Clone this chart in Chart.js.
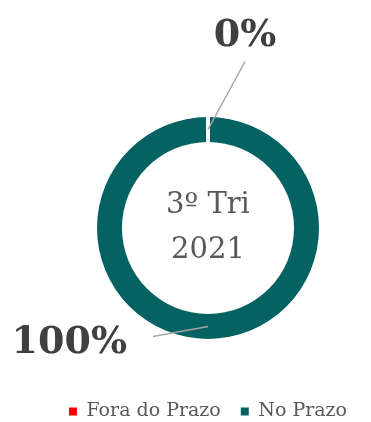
<!DOCTYPE html>
<html>
<head>
<meta charset="utf-8">
<script src="https://cdn.jsdelivr.net/npm/chart.js@4"></script>
<style>
  html, body { margin: 0; padding: 0; background: #ffffff; }
  #wrap { width: 371px; height: 422px; }
</style>
</head>
<body>
<div id="wrap"><canvas id="chart"></canvas></div>
<script>
// Chart data
const categories = ["Fora do Prazo", "No Prazo"];
const values = [0, 100];
const sliceColors = ["#ff0000", "#056262"];
const centerLines = ["3º Tri", "2021"];

// Where each percentage label sits, relative to its slice anchor
const labelOffsets = [
    { line: [37, -68], text: [37, -83], align: "center" },
    { line: [-55, 10], text: [-81, 26], align: "right" }
];

const serif = "'DejaVu Serif', 'Liberation Serif', serif";

// Draws the white gap, leader lines, percentage labels and center text
const donutLabels = {
    id: "donutLabels",
    afterDatasetsDraw(chart) {
        const ctx = chart.ctx;
        const meta = chart.getDatasetMeta(0);
        const total = values.reduce((s, v) => s + v, 0);
        const first = meta.data[0];
        const cx = first.x, cy = first.y;
        const outer = first.outerRadius, inner = first.innerRadius;

        // white separator at the start of the ring
        ctx.save();
        ctx.strokeStyle = "#ffffff";
        ctx.lineWidth = 4;
        ctx.beginPath();
        ctx.moveTo(cx, cy - inner + 1);
        ctx.lineTo(cx, cy - outer - 1);
        ctx.stroke();
        ctx.restore();

        meta.data.forEach((arc, i) => {
            const mid = (arc.startAngle + arc.endAngle) / 2;
            const r = (outer + inner) / 2;
            const ax = cx + Math.cos(mid) * r;
            const ay = cy + Math.sin(mid) * r;
            const off = labelOffsets[i];
            const pct = Math.round(values[i] / total * 100) + "%";

            ctx.save();
            ctx.strokeStyle = "#a6a6a6";
            ctx.lineWidth = 1.5;
            ctx.beginPath();
            ctx.moveTo(ax + off.line[0], ay + off.line[1]);
            ctx.lineTo(ax, ay);
            ctx.stroke();

            ctx.fillStyle = "#404040";
            ctx.font = "bold 38px " + serif;
            ctx.textAlign = off.align;
            ctx.textBaseline = "alphabetic";
            ctx.fillText(pct, ax + off.text[0], ay + off.text[1]);
            ctx.restore();
        });

        ctx.save();
        ctx.fillStyle = "#595959";
        ctx.font = "29px " + serif;
        ctx.textAlign = "center";
        ctx.textBaseline = "alphabetic";
        ctx.fillText(centerLines[0], cx, cy - 15);
        ctx.fillText(centerLines[1], cx, cy + 30);
        ctx.restore();
    }
};

const ctx = document.getElementById("chart").getContext("2d");
new Chart(ctx, {
    type: "doughnut",
    data: {
        labels: categories,
        datasets: [{
            data: values,
            backgroundColor: sliceColors,
            borderWidth: 0
        }]
    },
    options: {
        responsive: true,
        maintainAspectRatio: false,
        animation: false,
        cutout: "77.5%",
        radius: 111,
        layout: { padding: { left: 45, top: 74, bottom: -9 } },
        plugins: {
            legend: {
                position: "bottom",
                labels: {
                    usePointStyle: true,
                    pointStyle: "rect",
                    boxWidth: 8,
                    boxHeight: 8,
                    padding: 20,
                    color: "#595959",
                    font: { family: serif, size: 19 }
                }
            },
            tooltip: { enabled: false },
            donutLabels: {}
        }
    },
    plugins: [donutLabels]
});
</script>
</body>
</html>
